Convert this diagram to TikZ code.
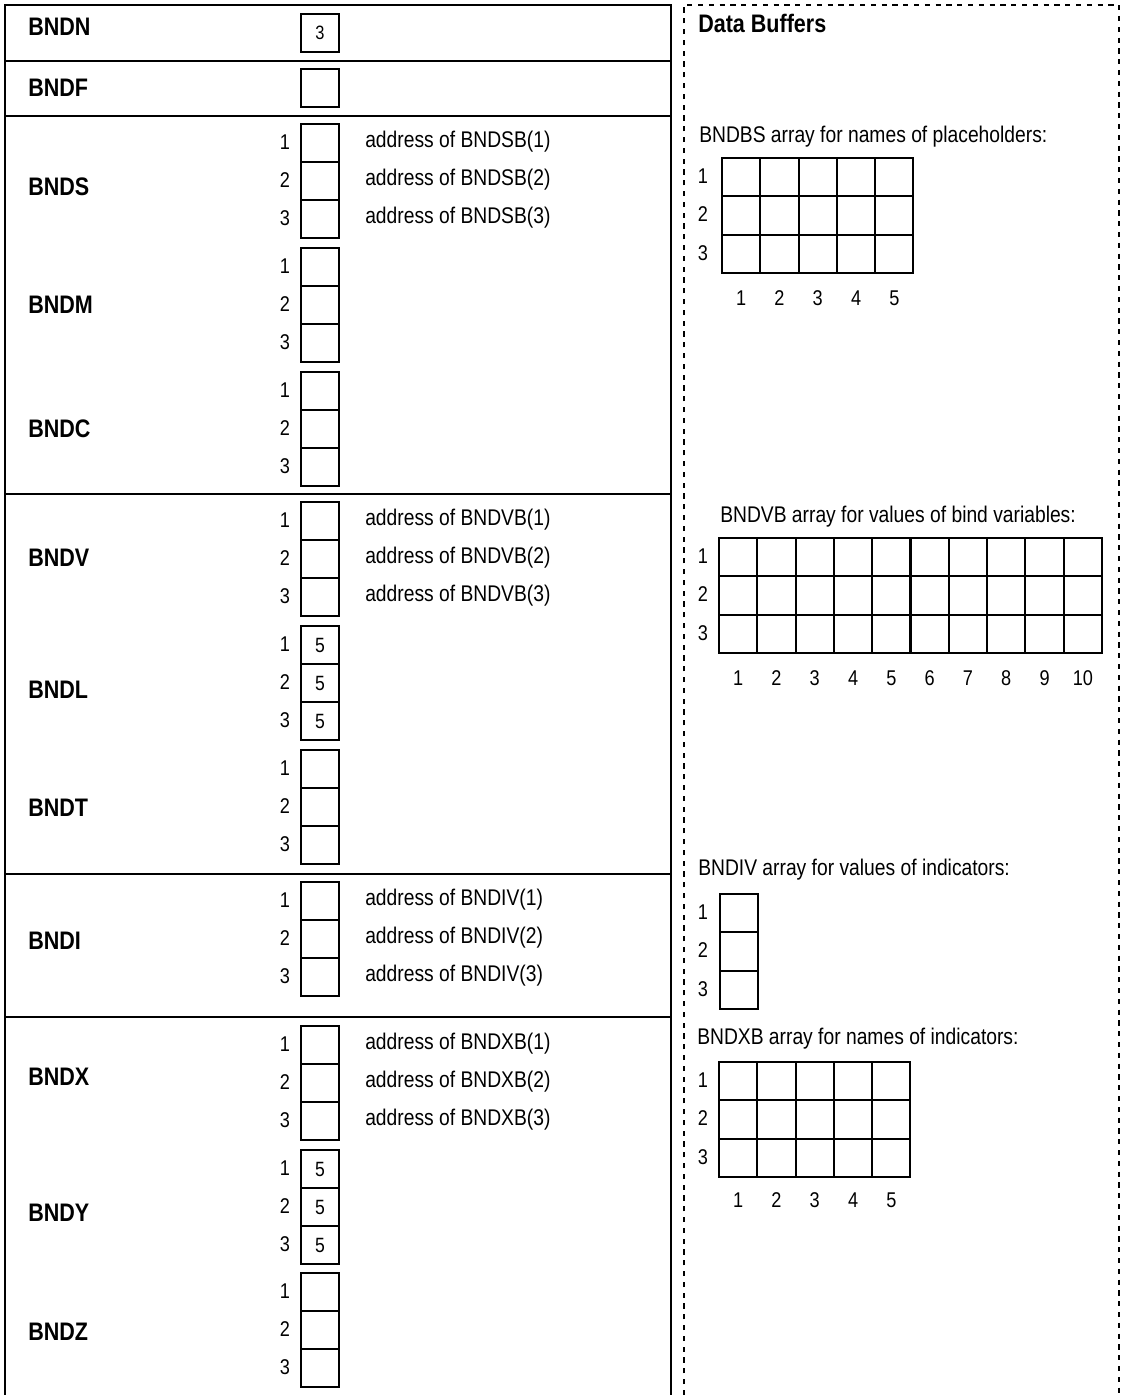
\documentclass[tikz,border=0pt]{standalone}
\usepackage{fontspec}
\setmainfont{Liberation Sans}[FakeStretch=0.85]
\begin{document}
\begin{tikzpicture}[x=0.75pt,y=-0.75pt,
  lbl/.style={font=\fontsize{19}{21}\selectfont\bfseries, anchor=west, inner sep=0},
  idx/.style={font=\fontsize{16}{18}\selectfont, inner sep=0},
  txt/.style={font=\fontsize{17}{19}\selectfont, anchor=base west, inner sep=0},
  cell/.style={draw, line width=1.1pt, minimum width=28.5pt, minimum height=28.5pt, inner sep=0, font=\fontsize{15.5}{17}\selectfont},
  gcell/.style={draw, line width=1.5pt, minimum width=28.7pt, minimum height=28.7pt, inner sep=0},
  panel/.style={line width=1.6pt},
  dpanel/.style={line width=1.4pt, dash pattern=on 3.9pt off 4.2pt}]
\useasboundingbox (0,0) rectangle (1122,1395);
% left panel
\draw[panel] (5,1395) -- (5,5) -- (671,5) -- (671,1395);
\foreach \y in {61,116,494,874,1017} \draw[panel] (5,\y) -- (671,\y);
% right panel
\draw[dpanel] (684,1395) -- (684,5) -- (1119,5) -- (1119,1395);
% single cells
\node[lbl] (labBNDN) at (28,27) {BNDN};
\node[cell, font=\fontsize{14.5}{16}\selectfont] (BNDN1) at (320,33) {3};
\node[lbl] (labBNDF) at (28,88) {BNDF};
\node[cell] (BNDF1) at (320,88) {};
% triple cells
\foreach \nm/\top/\ly/\v in {BNDS/124/187/,BNDM/248/305/,BNDC/372/429/,BNDV/502/558/,BNDL/626/690/5,BNDT/750/808/,BNDI/882/941/,BNDX/1026/1077/,BNDY/1150/1213/5,BNDZ/1273/1332/} {
  \node[lbl] (lab\nm) at (28,\ly) {\nm};
  \foreach \i in {1,2,3} {
    \node[cell] (\nm\i) at (320,{\top+19+38*(\i-1)}) {\v};
    \node[idx] (idx\nm\i) at (285,{\top+18+38*(\i-1)}) {\i};
  }
}
% address texts
\foreach \nm/\top/\b in {BNDS/124/BNDSB,BNDV/502/BNDVB,BNDI/882/BNDIV,BNDX/1026/BNDXB} {
  \foreach \i in {1,2,3}
    \node[txt] (addr\nm\i) at (365,{\top+23+38*(\i-1)}) {address of \b(\i)};
}
% data buffers
\node[lbl, anchor=base west] (title) at (698,33) {Data Buffers};
\node[txt] (tBS) at (699,142) {BNDBS array for names of placeholders:};
\node[txt] (tVB) at (720,522) {BNDVB array for values of bind variables:};
\node[txt] (tIV) at (698,875) {BNDIV array for values of indicators:};
\node[txt] (tXB) at (697,1044) {BNDXB array for names of indicators:};
% grids
\foreach \g/\x/\y/\nc in {BS/722/158/5,VB/719/538/10,IV/720/894/1,XB/719/1062/5} {
  \foreach \r in {1,2,3} {
    \node[idx] (row\g\r) at (703,{\y+18.2+38.3*(\r-1)}) {\r};
    \foreach \c in {1,...,\nc}
      \node[gcell] (g\g\r\c) at ({\x+19.15+38.3*(\c-1)},{\y+19.15+38.3*(\r-1)}) {};
  }
}
\foreach \g/\x/\yl/\nc in {BS/722/298/5,VB/719/678/10,XB/719/1200/5} {
  \foreach \c in {1,...,\nc}
    \node[idx] (col\g\c) at ({\x+19.15+38.3*(\c-1)},\yl) {\c};
}
\end{tikzpicture}
\end{document}
